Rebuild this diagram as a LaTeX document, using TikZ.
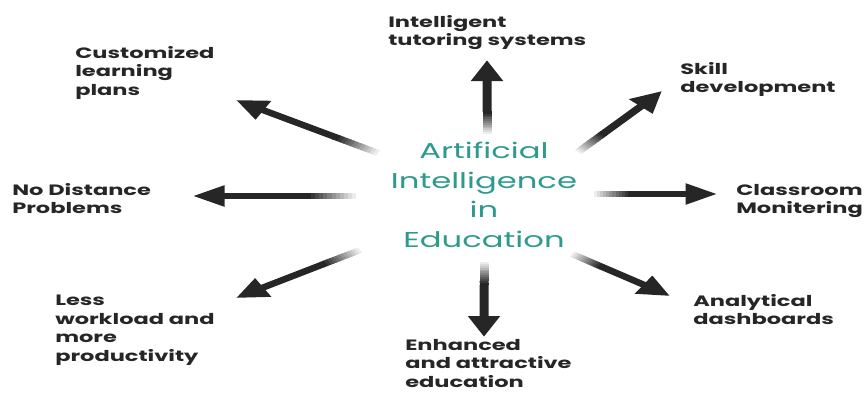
\documentclass[tikz,border=0pt]{standalone}
\usepackage{fontspec}
\setmainfont{Poppins}
\usetikzlibrary{arrows.meta,calc}
\definecolor{aiteal}{HTML}{2E9A8E}
\tikzset{
  topic/.style={anchor=north west, inner sep=0pt, align=left,
    font=\bfseries\fontsize{15}{18.5}\selectfont, text=black!85},
  shaft/.style={line width=6pt},
  spoke/.style={shaft, draw=black!85,
    -{Triangle[length=21pt,width=20pt]}},
}
\begin{document}
\begin{tikzpicture}[x=1pt,y=-1pt]
      \useasboundingbox (0,0) rectangle (867,394);
      % the source image is stretched sideways
      \begin{scope}[transform canvas={xscale=1.5}, x=0.666667pt]
      % centre
      \node[inner sep=0pt, align=center, text=aiteal,
        font=\fontsize{21.5}{29.5}\selectfont] (ai) at (484,195)
        {Artificial\\Intelligence\\in\\Education};
      % topics
      \node[topic] (plans)  at (75,46)   {Customized\\learning\\plans};
      \node[topic] (its)    at (388,15)  {Intelligent\\tutoring systems};
      \node[topic] (skill)  at (680,62)  {Skill\\development};
      \node[topic] (dist)   at (12,183)  {No Distance\\Problems};
      \node[topic] (class)  at (736,184) {Classroom\\Monitering};
      \node[topic] (load)   at (55,295)  {Less\\workload and\\more\\productivity};
      \node[topic] (dash)   at (693,294) {Analytical\\dashboards};
      \node[topic] (enh)    at (405,339) {Enhanced\\and attractive\\education};
      % arrow ends
      \coordinate (t1) at (378,153); \coordinate (h1) at (236,100);
      \coordinate (t2) at (487,134); \coordinate (h2) at (487,60);
      \coordinate (t3) at (578,152); \coordinate (h3) at (662,91);
      \coordinate (t4) at (356,196); \coordinate (h4) at (193,196);
      \coordinate (t5) at (594,194); \coordinate (h5) at (717,194);
      \coordinate (t6) at (360,250); \coordinate (h6) at (236,298);
      \coordinate (t7) at (484,262); \coordinate (h7) at (484,337);
      \coordinate (t8) at (572,254); \coordinate (h8) at (670,296);
      % arrows, with a faded tail
      \foreach \i in {1,...,8} {
        \draw[spoke] ($(t\i)!0.3!(h\i)$) -- (h\i);
        \foreach \k [evaluate=\k as \c using 85*(\k+1)/12] in {0,...,11}
          \draw[shaft, draw=black!\c]
            ($(t\i)!{\k/40}!(h\i)$) -- ($(t\i)!{(\k+1.3)/40}!(h\i)$);
      }
      \end{scope}
\end{tikzpicture}
\end{document}
